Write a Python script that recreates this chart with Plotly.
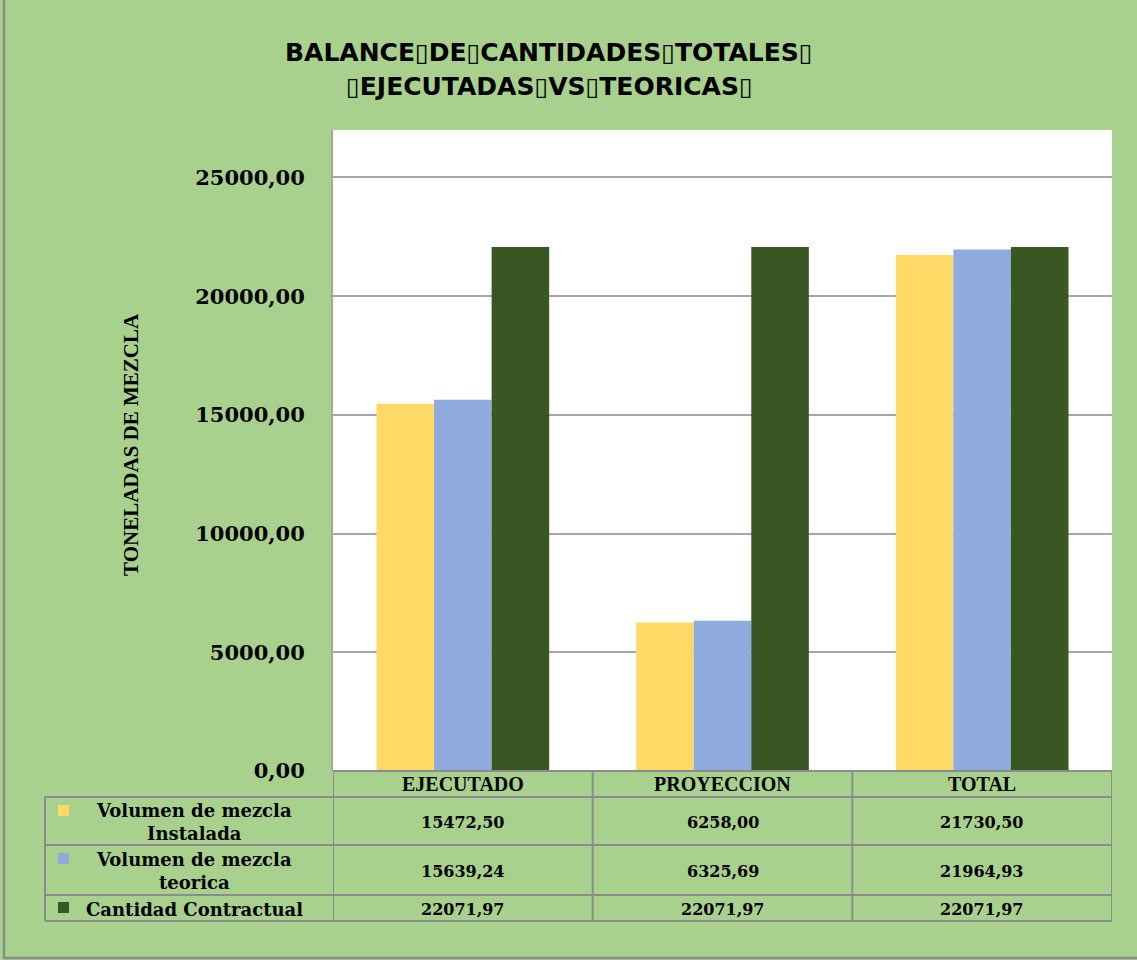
import plotly.graph_objects as go

# ---- data ----
categories = ["EJECUTADO", "PROYECCION", "TOTAL"]
series_names = ["Volumen de mezcla Instalada", "Volumen de mezcla teorica", "Cantidad Contractual"]
series_table_names = ["Volumen de mezcla<br>Instalada", "Volumen de mezcla<br>teorica", "Cantidad Contractual"]
instalada = [15472.50, 6258.00, 21730.50]
teorica = [15639.24, 6325.69, 21964.93]
contractual = [22071.97, 22071.97, 22071.97]
tick_vals = [0, 5000, 10000, 15000, 20000, 25000]
tick_text = ["0,00", "5000,00", "10000,00", "15000,00", "20000,00", "25000,00"]
title_lines = ["BALANCE\u25afDE\u25afCANTIDADES\u25afTOTALES\u25af", "\u25afEJECUTADAS\u25afVS\u25afTEORICAS\u25af"]
y_title = "TONELADAS DE MEZCLA"

colors = ["#FFD966", "#8FAADC", "#385723"]
BG = "#A9D18E"
GRID = "#A6A6A6"
W, H = 1137, 972
REF_H = 960

def px_x(x):
    return x / W

def px_y(y):
    return 1 - y / REF_H

series = [instalada, teorica, contractual]

fig = go.Figure()
for name, vals, col in zip(series_names, series, colors):
    fig.add_trace(go.Bar(x=categories, y=vals, name=name, marker=dict(color=col, line=dict(width=0)),
                         showlegend=False))

def fmt(v):
    return f"{v:.2f}".replace(".", ",")

plot_left, plot_right, plot_top, plot_bottom = 333, 1112, 130, 771
fig.update_layout(
    width=W, height=H, autosize=False,
    margin=dict(l=0, r=0, t=0, b=0),
    paper_bgcolor=BG, plot_bgcolor="white",
    barmode="group", bargap=0.335, bargroupgap=0,
    xaxis=dict(domain=[px_x(plot_left), px_x(plot_right)], showticklabels=False, showgrid=False,
               zeroline=False, showline=False, ticks="", range=[-0.5, 2.5]),
    yaxis=dict(domain=[px_y(plot_bottom), px_y(plot_top)], range=[0, 27000],
               tickvals=tick_vals, ticktext=tick_text, showgrid=True, gridcolor=GRID, gridwidth=1.5,
               zeroline=False, showline=True, linecolor=GRID, linewidth=2, ticks="",
               ticklabelstandoff=22,
               tickfont=dict(family="DejaVu Serif", size=21, color="black", weight="bold")),
)

shapes = []
annotations = []
# outer border
shapes.append(dict(type="rect", xref="paper", yref="paper", x0=px_x(4), x1=px_x(1140), y0=px_y(958), y1=px_y(-3),
                   line=dict(color="#8C8C8C", width=2.5), fillcolor="rgba(0,0,0,0)", layer="above"))

# title
for line, yc in zip(title_lines, [52, 87]):
    annotations.append(dict(text=line, xref="paper", yref="paper", x=px_x(549), y=px_y(yc),
                            showarrow=False, xanchor="center", yanchor="middle",
                            font=dict(family="DejaVu Sans", size=25, color="black", weight="bold")))
# y title
annotations.append(dict(text=y_title, xref="paper", yref="paper", x=px_x(131), y=px_y(445),
                        showarrow=False, textangle=-90, xanchor="center", yanchor="middle",
                        font=dict(family="Liberation Serif", size=21, color="black", weight="bold")))

# table
row_lines = [771, 797, 845, 895, 921]
table_left = 45
TL = dict(color="#8C8C8C", width=2)
shapes.append(dict(type="line", xref="paper", yref="paper", x0=px_x(plot_left), x1=px_x(plot_right),
                   y0=px_y(row_lines[0]), y1=px_y(row_lines[0]), line=TL))
for ry in row_lines[1:]:
    shapes.append(dict(type="line", xref="paper", yref="paper", x0=px_x(table_left), x1=px_x(plot_right),
                       y0=px_y(ry), y1=px_y(ry), line=TL))
shapes.append(dict(type="line", xref="paper", yref="paper", x0=px_x(table_left), x1=px_x(table_left),
                   y0=px_y(row_lines[1]), y1=px_y(row_lines[-1]), line=TL))
for b in [-0.5, 0.5, 1.5, 2.5]:
    shapes.append(dict(type="line", xref="x", yref="paper", x0=b, x1=b,
                       y0=px_y(row_lines[0]), y1=px_y(row_lines[-1]), line=TL))

cell_font = dict(family="DejaVu Serif", size=16, color="black", weight="bold")
for c in categories:
    annotations.append(dict(text=c, xref="x", yref="paper", x=c, y=px_y((row_lines[0] + row_lines[1]) / 2),
                            showarrow=False, xanchor="center", yanchor="middle",
                            font=dict(family="Liberation Serif", size=20, color="black", weight="bold")))
for r, (name, vals, col) in enumerate(zip(series_table_names, series, colors)):
    yc = (row_lines[r + 1] + row_lines[r + 2]) / 2
    for c, v in zip(categories, vals):
        annotations.append(dict(text=fmt(v), xref="x", yref="paper", x=c, y=px_y(yc + 1),
                                showarrow=False, xanchor="center", yanchor="middle", font=cell_font))
    annotations.append(dict(text=name, xref="paper", yref="paper", x=px_x(194), y=px_y(yc + 1),
                            showarrow=False, xanchor="center", yanchor="middle",
                            font=dict(family="DejaVu Serif", size=18, color="black", weight="bold")))
    ky = row_lines[r + 1] + (8 if r < 2 else 7)
    shapes.append(dict(type="rect", xref="paper", yref="paper", x0=px_x(58), x1=px_x(69),
                       y0=px_y(ky + 11), y1=px_y(ky), fillcolor=col, line=dict(width=0)))

fig.update_layout(shapes=shapes, annotations=annotations)
post = (
    "document.documentElement.style.margin='0';"
    "document.documentElement.style.padding='0';"
    "document.body.style.margin='0';"
    "document.body.style.padding='0';"
)
fig.write_html("out.html", post_script=post, config={"displayModeBar": False})
